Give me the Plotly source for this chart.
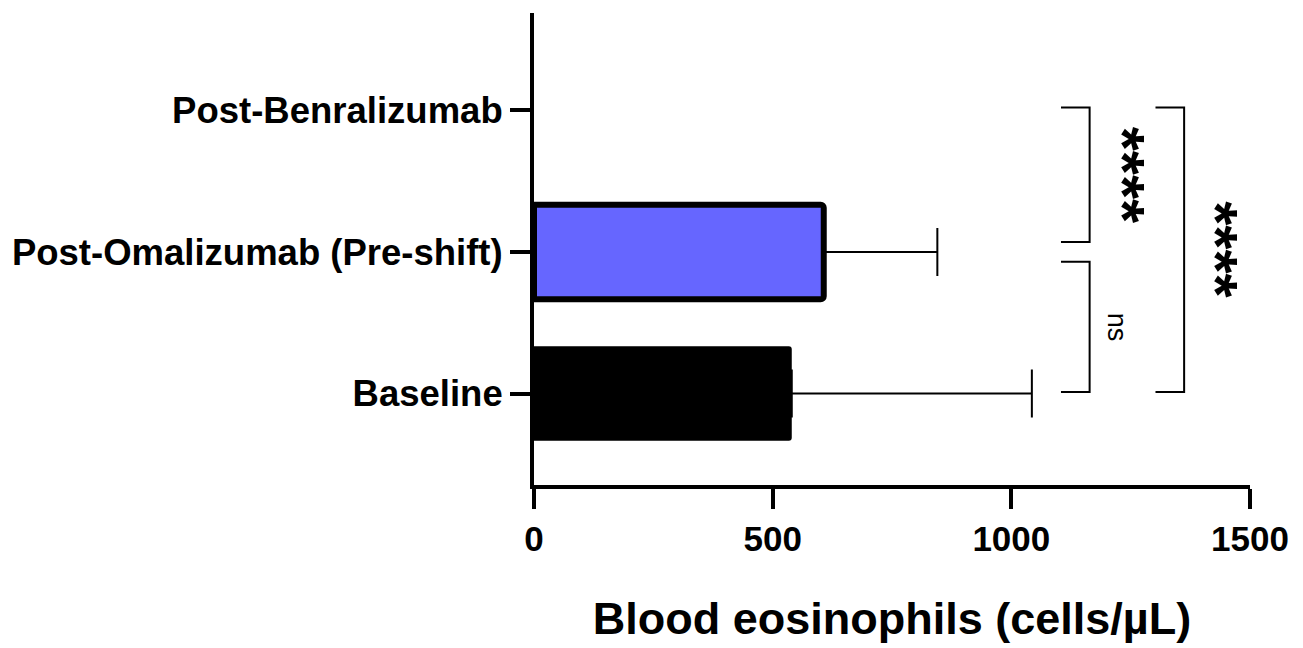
import plotly.graph_objects as go

# ---- data ----
categories = ["Baseline", "Post-Omalizumab (Pre-shift)", "Post-Benralizumab"]
means = [540, 607, 0]
sd_plus = [503, 238, None]
bar_colors = ["#000000", "#6666FF", "rgba(0,0,0,0)"]
bar_line_widths = [0, 6, 0]

x_ticks = [0, 500, 1000, 1500]
x_title = "Blood eosinophils (cells/µL)"

# comparisons: (lower index, upper index, label)
comparisons = [(1, 2, "****"), (0, 1, "ns"), (0, 2, "****")]

FONT = "Liberation Sans, Arial, sans-serif"
ypos = list(range(len(categories)))

fig = go.Figure()
fig.add_trace(go.Bar(
    y=ypos, x=means, orientation="h", width=0.667,
    marker=dict(color=bar_colors, line=dict(color="#000000", width=bar_line_widths),
                cornerradius=3),
    showlegend=False, hoverinfo="skip",
))

# error bars (plus side only) for groups that have an SD
err_idx = [i for i, s in enumerate(sd_plus) if s is not None]
fig.add_trace(go.Scatter(
    y=[ypos[i] for i in err_idx], x=[means[i] for i in err_idx], mode="markers",
    marker=dict(size=1, opacity=0),
    error_x=dict(type="data", symmetric=False, array=[sd_plus[i] for i in err_idx],
                 arrayminus=[0] * len(err_idx), color="#000000", thickness=2, width=24),
    showlegend=False, hoverinfo="skip",
))

# bracket geometry (x in data units, layout constants)
bracket_x = {(1, 2): (1104, 1164), (0, 1): (1104, 1164), (0, 2): (1302, 1362)}
text_x = {(1, 2): 1234, (0, 1): 1222, (0, 2): 1430}
gap = 0.07
top_off = 0.02
for lo, hi, label in comparisons:
    x0, x1 = bracket_x[(lo, hi)]
    y_lo = lo + (gap if lo == 1 else 0.01)
    y_hi = hi + (top_off if hi == 2 else -gap)
    fig.add_trace(go.Scatter(
        x=[x0, x1, x1, x0], y=[y_lo, y_lo, y_hi, y_hi], mode="lines",
        line=dict(color="#000000", width=2), showlegend=False, hoverinfo="skip",
    ))
    is_star = label.startswith("*")
    fig.add_annotation(
        x=text_x[(lo, hi)], y=(y_lo + y_hi) / 2, xref="x", yref="y",
        text=label, textangle=90, showarrow=False,
        font=dict(family=FONT, size=62 if is_star else 27, color="#000000",
                  weight="bold" if is_star else "normal"),
    )

fig.update_layout(
    width=1303, height=648,
    margin=dict(l=531, r=53, t=13, b=155),
    paper_bgcolor="white", plot_bgcolor="white",
    font=dict(family=FONT, color="#000000"),
    xaxis=dict(
        range=[0, 1500], tickvals=x_ticks, ticktext=[str(v) for v in x_ticks],
        showgrid=False, zeroline=False, showline=True, linecolor="#000000", linewidth=4,
        ticks="outside", ticklen=20, tickwidth=4, tickcolor="#000000",
        tickfont=dict(family=FONT, size=35, weight="bold"),
        title=dict(text=x_title, font=dict(family=FONT, size=45, weight="bold"), standoff=46),
    ),
    yaxis=dict(
        range=[-0.646, 2.6875], tickvals=ypos, ticktext=categories,
        showgrid=False, zeroline=False, showline=True, linecolor="#000000", linewidth=4,
        ticks="outside", ticklen=20, tickwidth=4, tickcolor="#000000",
        tickfont=dict(family=FONT, size=36.5, weight="bold"),
    ),
)

fig.write_html("out.html", config={"displayModeBar": False})

# remove default browser body margin so the figure fills the window exactly
with open("out.html", "r", encoding="utf-8") as f:
    html = f.read()
html = html.replace("<body>", '<body style="margin:0;padding:0;overflow:hidden">', 1)
with open("out.html", "w", encoding="utf-8") as f:
    f.write(html)
